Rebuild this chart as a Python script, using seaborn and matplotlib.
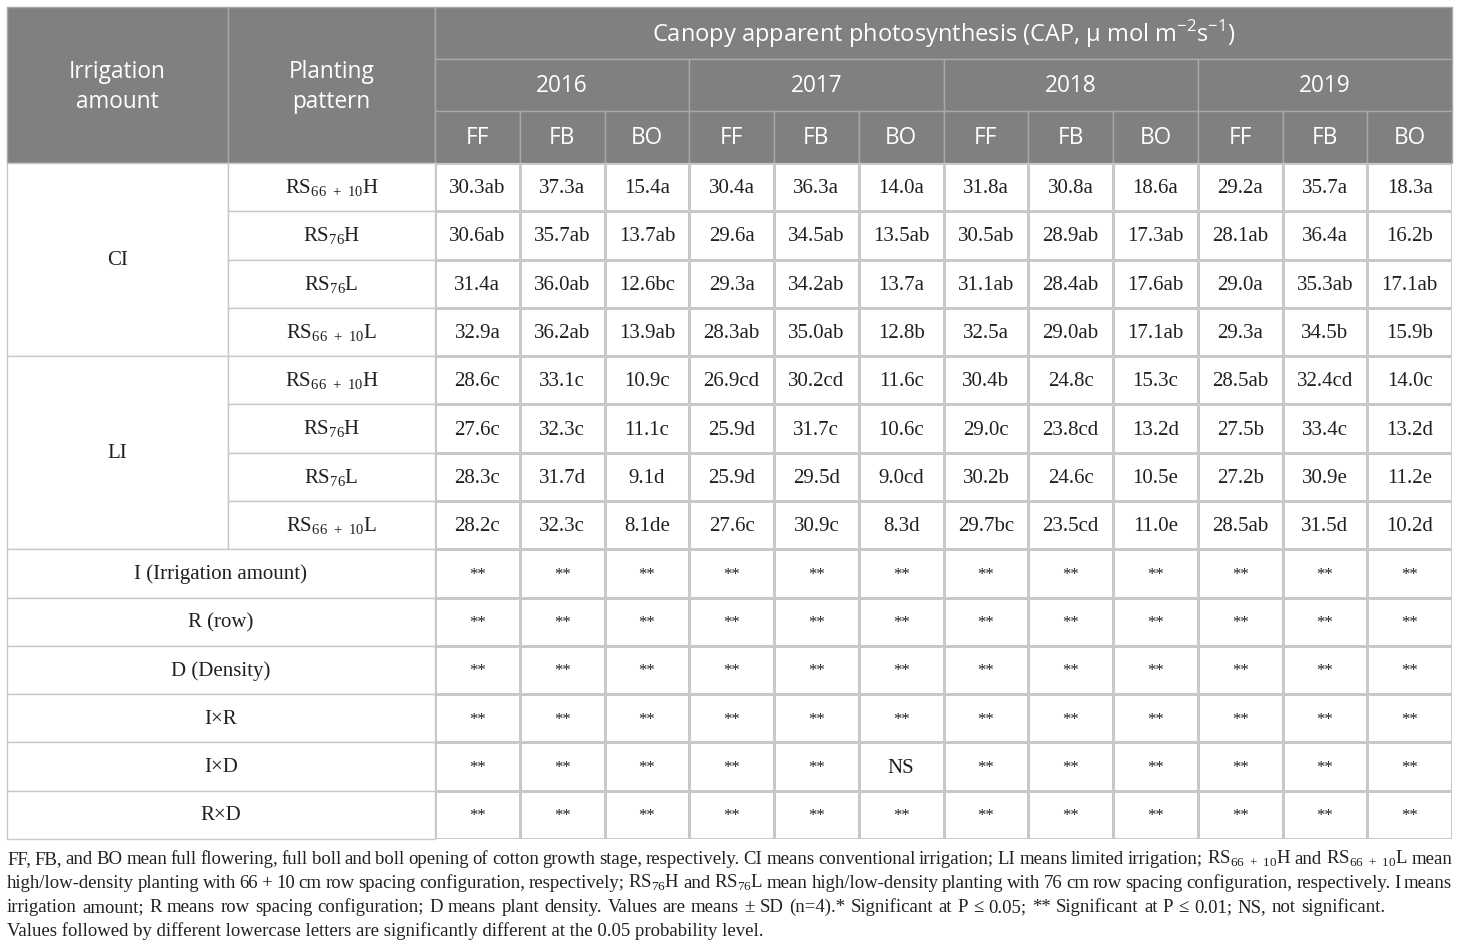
import numpy as np
import matplotlib
matplotlib.use("Agg")
import matplotlib.pyplot as plt
from matplotlib.colors import ListedColormap
from matplotlib.patches import Rectangle
import seaborn as sns

# %% data read off the table
years = ["2016", "2017", "2018", "2019"]
stages = ["FF", "FB", "BO"]
irrigation = ["CI", "LI"]
patterns = [r"RS$_{\mathregular{66\;+\;10}}$H", r"RS$_{\mathregular{76}}$H",
            r"RS$_{\mathregular{76}}$L", r"RS$_{\mathregular{66\;+\;10}}$L"]
effects = ["I (Irrigation amount)", "R (row)", "D (Density)", "I×R", "I×D", "R×D"]

ci_rs66_h = ["30.3ab", "37.3a", "15.4a", "30.4a", "36.3a", "14.0a", "31.8a", "30.8a", "18.6a", "29.2a", "35.7a", "18.3a"]
ci_rs76_h = ["30.6ab", "35.7ab", "13.7ab", "29.6a", "34.5ab", "13.5ab", "30.5ab", "28.9ab", "17.3ab", "28.1ab", "36.4a", "16.2b"]
ci_rs76_l = ["31.4a", "36.0ab", "12.6bc", "29.3a", "34.2ab", "13.7a", "31.1ab", "28.4ab", "17.6ab", "29.0a", "35.3ab", "17.1ab"]
ci_rs66_l = ["32.9a", "36.2ab", "13.9ab", "28.3ab", "35.0ab", "12.8b", "32.5a", "29.0ab", "17.1ab", "29.3a", "34.5b", "15.9b"]
li_rs66_h = ["28.6c", "33.1c", "10.9c", "26.9cd", "30.2cd", "11.6c", "30.4b", "24.8c", "15.3c", "28.5ab", "32.4cd", "14.0c"]
li_rs76_h = ["27.6c", "32.3c", "11.1c", "25.9d", "31.7c", "10.6c", "29.0c", "23.8cd", "13.2d", "27.5b", "33.4c", "13.2d"]
li_rs76_l = ["28.3c", "31.7d", "9.1d", "25.9d", "29.5d", "9.0cd", "30.2b", "24.6c", "10.5e", "27.2b", "30.9e", "11.2e"]
li_rs66_l = ["28.2c", "32.3c", "8.1de", "27.6c", "30.9c", "8.3d", "29.7bc", "23.5cd", "11.0e", "28.5ab", "31.5d", "10.2d"]

sig_i = ["**"] * 12
sig_r = ["**"] * 12
sig_d = ["**"] * 12
sig_ixr = ["**"] * 12
sig_ixd = ["**", "**", "**", "**", "**", "NS", "**", "**", "**", "**", "**", "**"]
sig_rxd = ["**"] * 12

title = r"Canopy apparent photosynthesis (CAP, μ mol m$^{\mathregular{−2}}$s$^{\mathregular{−1}}$)"
note_lines = [
    r"FF, FB, and BO mean full flowering, full boll and boll opening of cotton growth stage, respectively. CI means conventional irrigation; LI means limited irrigation; RS$_{\mathregular{66\;+\;10}}$H and RS$_{\mathregular{66\;+\;10}}$L mean",
    r"high/low-density planting with 66 + 10 cm row spacing configuration, respectively; RS$_{\mathregular{76}}$H and RS$_{\mathregular{76}}$L mean high/low-density planting with 76 cm row spacing configuration, respectively. I means",
    "irrigation amount; R means row spacing configuration; D means plant density. Values are means ± SD (n=4).* Significant at P ≤ 0.05; ** Significant at P ≤ 0.01; NS, not significant.",
    "Values followed by different lowercase letters are significantly different at the 0.05 probability level.",
]

# %% layout
sns.set_theme(style="white")
W, H = 1460, 951
HEAD_BG = "#808080"
HEAD_LINE = "#a8a8a8"
GRID = "#c8c8c8"
INK = "#231f20"
SERIF = "Liberation Serif"
SANS = "Open Sans"

x_left = [7, 228, 435]
x_right = 1452
n_data = len(years) * len(stages)
data_w = (x_right - x_left[2]) / n_data
head_y = [7, 59, 111, 163]
body_bottom = 839
n_body = len(irrigation) * len(patterns) + len(effects)
row_h = (body_bottom - head_y[-1]) / n_body

fig = plt.figure(figsize=(W / 100, H / 100), dpi=100)
ax = fig.add_axes([0, 0, 1, 1])
ax.set_xlim(0, W)
ax.set_ylim(H, 0)
ax.axis("off")


def cell(x0, y0, x1, y1, face, edge):
    ax.add_patch(Rectangle((x0, y0), x1 - x0, y1 - y0, facecolor=face,
                           edgecolor=edge, linewidth=1.0))


# header
head_kw = dict(color="white", family=SANS, fontsize=16.3, ha="center", va="center")
cell(x_left[0], head_y[0], x_left[1], head_y[3], HEAD_BG, HEAD_LINE)
cell(x_left[1], head_y[0], x_left[2], head_y[3], HEAD_BG, HEAD_LINE)
ax.text((x_left[0] + x_left[1]) / 2, (head_y[0] + head_y[3]) / 2 + 2,
        "Irrigation\namount", linespacing=1.28, **head_kw)
ax.text((x_left[1] + x_left[2]) / 2, (head_y[0] + head_y[3]) / 2 + 2,
        "Planting\npattern", linespacing=1.28, **head_kw)
cell(x_left[2], head_y[0], x_right, head_y[1], HEAD_BG, HEAD_LINE)
ax.text((x_left[2] + x_right) / 2, (head_y[0] + head_y[1]) / 2 + 1, title,
        **{**head_kw, "fontsize": 17})
year_w = data_w * len(stages)
for i, yr in enumerate(years):
    x0 = x_left[2] + i * year_w
    cell(x0, head_y[1], x0 + year_w, head_y[2], HEAD_BG, HEAD_LINE)
    ax.text(x0 + year_w / 2, (head_y[1] + head_y[2]) / 2 + 1, yr, **head_kw)
    for j, st in enumerate(stages):
        xs = x0 + j * data_w
        cell(xs, head_y[2], xs + data_w, head_y[3], HEAD_BG, HEAD_LINE)
        ax.text(xs + data_w / 2, (head_y[2] + head_y[3]) / 2 + 1, st, **head_kw)

# left part of body
body_kw = dict(color=INK, family=SERIF, fontsize=15, ha="center", va="center")
y = head_y[3]
for irr in irrigation:
    span = row_h * len(patterns)
    cell(x_left[0], y, x_left[1], y + span, "white", GRID)
    ax.text((x_left[0] + x_left[1]) / 2, y + span / 2 + 1, irr, **body_kw)
    for k, pat in enumerate(patterns):
        y0 = y + k * row_h
        cell(x_left[1], y0, x_left[2], y0 + row_h, "white", GRID)
        ax.text((x_left[1] + x_left[2]) / 2, y0 + row_h / 2 + 1, pat, **body_kw)
    y += span
for eff in effects:
    cell(x_left[0], y, x_left[2], y + row_h, "white", GRID)
    ax.text((x_left[0] + x_left[2]) / 2, y + row_h / 2 + 1, eff, **body_kw)
    y += row_h

# data block as a seaborn heatmap
labels = np.array([ci_rs66_h, ci_rs76_h, ci_rs76_l, ci_rs66_l,
                   li_rs66_h, li_rs76_h, li_rs76_l, li_rs66_l,
                   sig_i, sig_r, sig_d, sig_ixr, sig_ixd, sig_rxd])
hax = fig.add_axes([x_left[2] / W, 1 - body_bottom / H,
                    (x_right - x_left[2]) / W, (body_bottom - head_y[3]) / H])
sns.heatmap(np.zeros(labels.shape), ax=hax, cmap=ListedColormap(["white"]),
            cbar=False, annot=labels, fmt="", linewidths=1.0, linecolor=GRID,
            xticklabels=False, yticklabels=False,
            annot_kws=dict(color=INK, family=SERIF, fontsize=15))
hax.tick_params(left=False, bottom=False)
for t in hax.texts:
    tx, ty = t.get_position()
    t.set_position((tx, ty + 0.03))
    if t.get_text() == "**":
        t.set_fontsize(12)

# footnote, justified like the source
renderer = fig.canvas.get_renderer()
note_kw = dict(color=INK, family=SERIF, fontsize=13.5, va="baseline", ha="left")
base = [864, 888, 912, 936]
ends = [x_right, x_right, 1385, None]
for line, yb, xe in zip(note_lines, base, ends):
    if xe is None:
        ax.text(x_left[0], yb, line, **note_kw)
        continue
    words = line.split(" ")
    texts = [ax.text(0, yb, w, **note_kw) for w in words]
    widths = [t.get_window_extent(renderer).width for t in texts]
    gap = (xe - x_left[0] - sum(widths)) / (len(words) - 1)
    xpos = x_left[0]
    for t, w in zip(texts, widths):
        t.set_x(xpos)
        xpos += w + gap

fig.savefig("out.png", dpi=100, facecolor="white")
